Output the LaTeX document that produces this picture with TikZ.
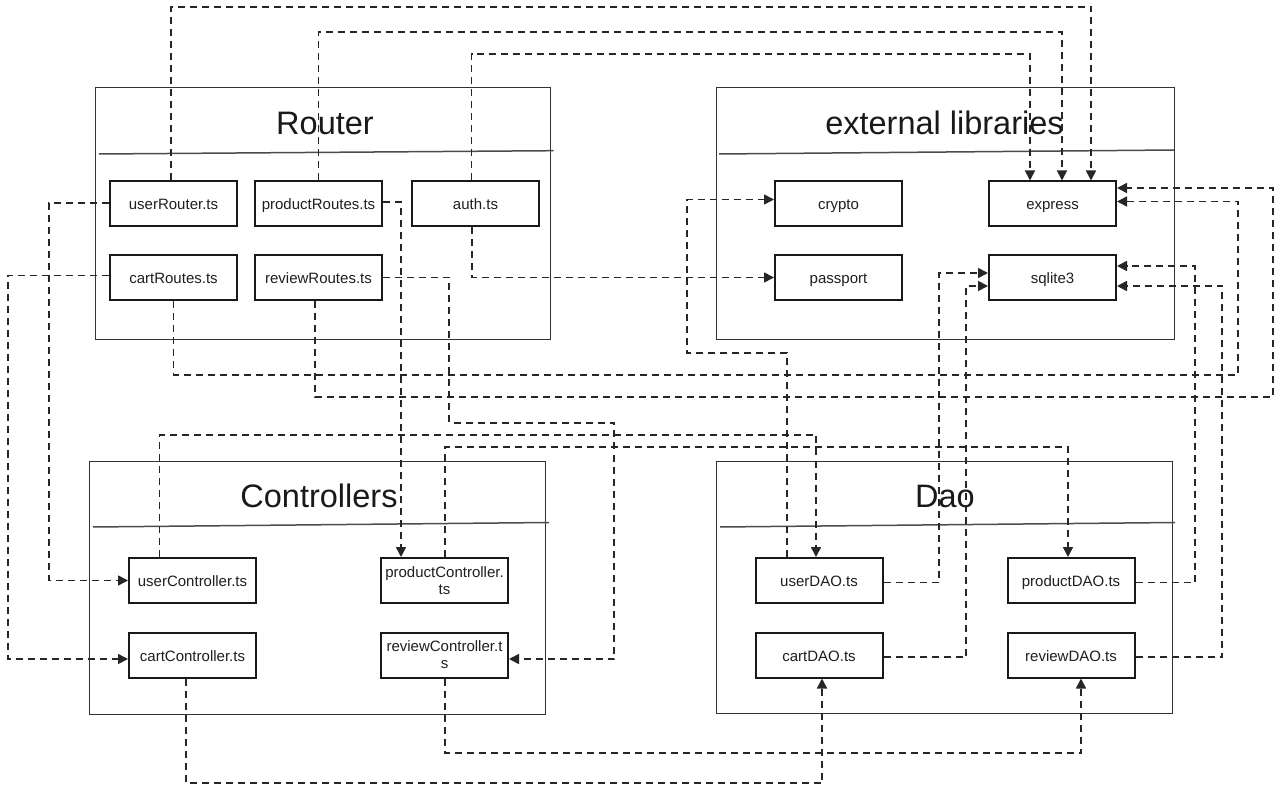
\documentclass[tikz,border=0pt]{standalone}
\usepackage{fontspec}
\setmainfont{Liberation Sans}
\usetikzlibrary{arrows.meta}
\begin{document}
\begin{tikzpicture}[x=1pt,y=-1pt,
  container/.style={draw=black!80, line width=1pt, inner sep=0pt},
  divider/.style={draw=black!70, line width=1.5pt},
  title/.style={font=\fontsize{32.5}{38}\selectfont, anchor=base, text=black!90, inner sep=0pt},
  file/.style={draw=black!90, fill=white, line width=2pt, minimum width=127pt, minimum height=45pt, inner sep=0pt, font=\fontsize{15}{17}\selectfont, text=black!88, align=center},
  oneline/.style={file, text height=12pt, text depth=0pt},
  conn/.style={draw=black!85, line width=1.6pt, dash pattern=on 7pt off 5pt, -{Triangle[length=10pt,width=10pt]}}
]
\useasboundingbox[fill=white] (0,0) rectangle (1280,791);

% containers
\node[container, minimum width=455pt, minimum height=252pt] (routerBox) at (322.5,214) {};
\node[container, minimum width=458pt, minimum height=252pt] (extBox) at (945,214) {};
\node[container, minimum width=456pt, minimum height=253pt] (ctrlBox) at (317,587.5) {};
\node[container, minimum width=456pt, minimum height=252pt] (daoBox) at (944,587) {};

\draw[divider] (99,154) -- (553.5,150.7);
\draw[divider] (719,154) -- (1174,150);
\draw[divider] (93,527) -- (549,522.5);
\draw[divider] (720,527) -- (1175,522.5);

\node[title] (routerTitle) at (325,135) {Router};
\node[title] (extTitle) at (944.5,135) {external libraries};
\node[title] (ctrlTitle) at (319,507) {Controllers};
\node[title] (daoTitle) at (945,507) {Dao};

% files
\node[oneline] (userRouter) at (173.5,204) {userRouter.ts};
\node[oneline] (productRoutes) at (318.5,204) {productRoutes.ts};
\node[oneline] (auth) at (475.5,204) {auth.ts};
\node[oneline] (cartRoutes) at (173.5,277.5) {cartRoutes.ts};
\node[oneline] (reviewRoutes) at (318.5,277.5) {reviewRoutes.ts};

\node[oneline] (crypto) at (838.5,204) {crypto};
\node[oneline] (express) at (1052.5,204) {express};
\node[oneline] (passport) at (838.5,277.5) {passport};
\node[oneline] (sqlite3) at (1052.5,277.5) {sqlite3};

\node[oneline] (userController) at (192.5,580.5) {userController.ts};
\node[file] (productController) at (444.5,580.5) {productController.\\ts};
\node[oneline] (cartController) at (192.5,655) {cartController.ts};
\node[file] (reviewController) at (444.5,655) {reviewController.t\\s};

\node[oneline] (userDAO) at (819,580.5) {userDAO.ts};
\node[oneline] (productDAO) at (1071,580.5) {productDAO.ts};
\node[oneline] (cartDAO) at (819,655) {cartDAO.ts};
\node[oneline] (reviewDAO) at (1071,655) {reviewDAO.ts};

% connectors: router -> express (top)
\draw[conn] ([xshift=-2.5pt]userRouter.north) |- (1091,7) -- ([xshift=38.5pt]express.north);
\draw[conn] (productRoutes.north) |- (1062,32) -- ([xshift=9.5pt]express.north);
\draw[conn] ([xshift=-4pt]auth.north) |- (1030,54) -- ([xshift=-22.5pt]express.north);

% router -> controllers
\draw[conn] ([yshift=1pt]userRouter.west) -| (49,580.5) -- (userController.west);
\draw[conn] ([yshift=2pt]cartRoutes.west) -| (8,659) -- ([yshift=-4pt]cartController.west);
\draw[conn] ([yshift=2pt]productRoutes.east) -| ([xshift=-43.5pt]productController.north);
\draw[conn] (reviewRoutes.east) -| (449,423) -| (614,659) -- ([yshift=-4pt]reviewController.east);

% router -> external
\draw[conn] ([xshift=-3.5pt]auth.south) |- (passport.west);
\draw[conn] (cartRoutes.south) |- (1238,375) |- ([yshift=2.5pt]express.east);
\draw[conn] ([xshift=-3.5pt]reviewRoutes.south) |- (1273,397) |- ([yshift=16pt]express.east);

% controllers -> dao
\draw[conn] ([xshift=-33pt]userController.north) |- (816,435) -- ([xshift=-3pt]userDAO.north);
\draw[conn] ([xshift=0.5pt]productController.north) |- (1068,447) -- ([xshift=-3pt]productDAO.north);
\draw[conn] ([xshift=-6.5pt]cartController.south) |- (822,783) -- ([xshift=3pt]cartDAO.south);
\draw[conn] ([xshift=0.5pt]reviewController.south) |- (1081,753) -- ([xshift=10pt]reviewDAO.south);

% dao -> external
\draw[conn] ([xshift=-32pt]userDAO.north) |- (687,353) |- ([yshift=4.5pt]crypto.west);
\draw[conn] ([yshift=-2pt]userDAO.east) -| (939,273) -- ([yshift=4.5pt]sqlite3.west);
\draw[conn] ([yshift=-2pt]cartDAO.east) -| (966,286) -- ([yshift=-8.5pt]sqlite3.west);
\draw[conn] ([yshift=-2pt]productDAO.east) -| (1195,266) -- ([yshift=11.5pt]sqlite3.east);
\draw[conn] ([yshift=-2pt]reviewDAO.east) -| (1222,286) -- ([yshift=-8.5pt]sqlite3.east);
\end{tikzpicture}
\end{document}
